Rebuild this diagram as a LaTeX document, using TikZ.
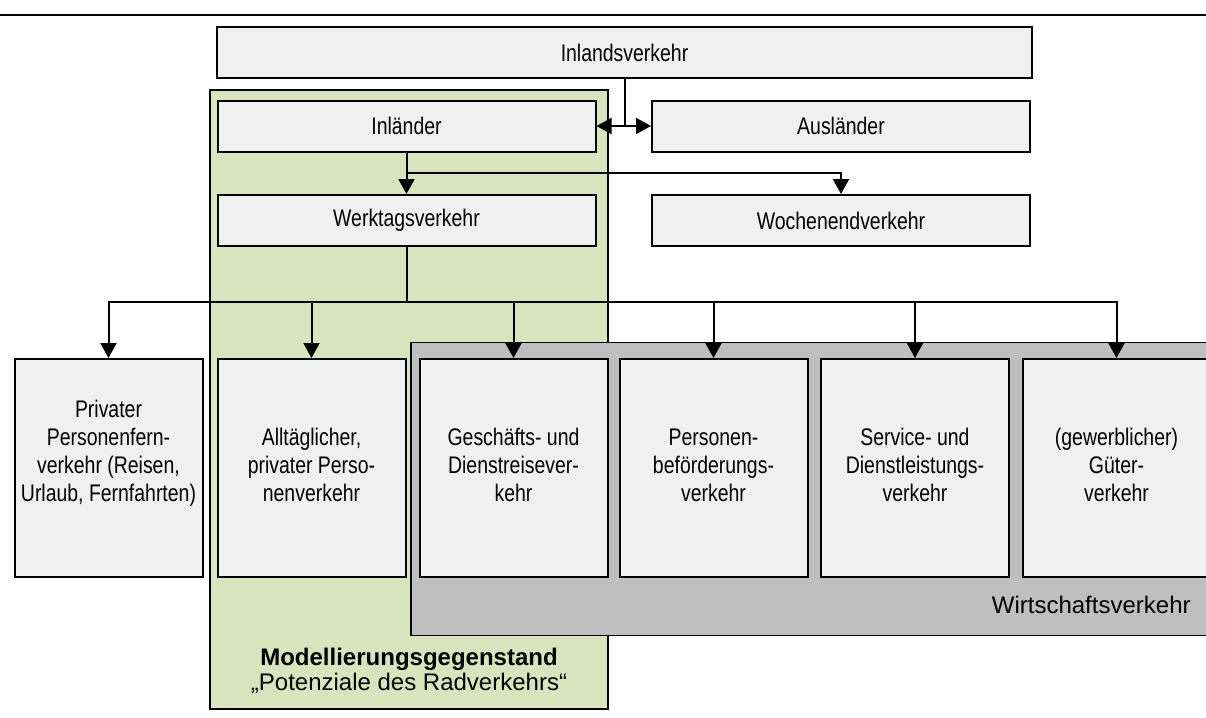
\documentclass[tikz,border=0pt]{standalone}
\usepackage{fontspec}
\setmainfont{Liberation Sans}
\newfontfamily\narrowfont[FakeStretch=0.81]{Liberation Sans}
\usetikzlibrary{arrows.meta}
\definecolor{boxfill}{HTML}{F0F0F0}
\definecolor{greenbg}{HTML}{D7E4BD}
\definecolor{graybg}{HTML}{BFBFBF}
\newcommand\mlines[1]{\parbox[b]{110pt}{\centering #1}}
\tikzset{
  box/.style={draw, line width=1pt, fill=boxfill, inner sep=0pt,
    font=\narrowfont\fontsize{12}{14}\selectfont},
  tallbox/.style={box, minimum width=94pt, minimum height=109pt},
  widebox/.style={box, minimum width=189pt, minimum height=25.5pt},
  btext/.style={inner sep=0pt, anchor=base, font=\narrowfont\fontsize{12}{14}\selectfont},
  arr/.style={line width=1pt, -{Triangle[length=7.5pt,width=8pt]}},
  area/.style={draw, line width=0.75pt}
}
\begin{document}
\begin{tikzpicture}[x=0.5pt,y=-0.5pt]
\clip (0,0) rectangle (1206,718);
\fill[white] (0,0) rectangle (1206,718);
% top rule
\draw[line width=1pt] (0,14.5) coordinate (r1) -- (1206,14.5) coordinate (r2);
% background areas
\node[area, fill=greenbg, minimum width=199pt, minimum height=309.5pt, inner sep=0pt] (green) at (409,399.5) {};
\node[area, fill=graybg, minimum width=420pt, minimum height=146.5pt, inner sep=0pt] (gray) at (831,489) {};
% top boxes
\node[box, minimum width=407.5pt, minimum height=25.5pt] (inl) at (624.5,52.5) {Inlandsverkehr};
\node[widebox] (inlaender) at (406.5,126) {Inländer};
\node[widebox] (ausl) at (841,126) {Ausländer};
\node[widebox] (werk) at (406.5,220.5) {Werktagsverkehr};
\node[widebox] (woch) at (841,220.5) {Wochenendverkehr};
% bottom boxes
\node[tallbox] (priv) at (108.5,468) {};
\node[tallbox] (allt) at (311.5,468) {};
\node[tallbox] (gesch) at (513.5,468) {};
\node[tallbox] (pers) at (713.5,468) {};
\node[tallbox] (serv) at (915,468) {};
\node[tallbox] (gut) at (1116.5,468) {};
\node[btext] (privt) at (108.5,501) {\mlines{Privater\\Personenfern-\\verkehr (Reisen,\\Urlaub, Fernfahrten)}};
\node[btext] (alltt) at (311.5,501) {\mlines{Alltäglicher,\\privater Perso-\\nenverkehr}};
\node[btext] (gescht) at (513.5,501) {\mlines{Geschäfts- und\\Dienstreisever-\\kehr}};
\node[btext] (perst) at (713.5,501) {\mlines{Personen-\\beförderungs-\\verkehr}};
\node[btext] (servt) at (915,501) {\mlines{Service- und\\Dienstleistungs-\\verkehr}};
\node[btext] (gutt) at (1116.5,501) {\mlines{(gewerblicher)\\Güter-\\verkehr}};
% area labels
\node[inner sep=0pt, anchor=base east, font=\fontsize{12}{14}\selectfont] (wv) at (1191,613) {Wirtschaftsverkehr};
\node[inner sep=0pt, anchor=base, font=\fontsize{12}{11}\selectfont] (mg) at (409,690)
  {\parbox[b]{200pt}{\centering\fontsize{12}{11}\selectfont {\bfseries Modellierungsgegenstand}\\„Potenziale des Radverkehrs“}};
% connectors
\draw[arr] (inl.south) |- (inlaender.east);
\draw[arr] (inl.south) |- (ausl.west);
\coordinate (j1) at (406.5,173);
\draw[arr] (inlaender.south) -- (werk.north);
\draw[arr] (j1) -| (woch.north);
\coordinate (j2) at (406.5,302);
\draw[line width=1pt] (werk.south) -- (j2);
\draw[arr] (j2) -| (priv.north);
\draw[arr] (j2) -| (allt.north);
\draw[arr] (j2) -| (gesch.north);
\draw[arr] (j2) -| (pers.north);
\draw[arr] (j2) -| (serv.north);
\draw[arr] (j2) -| (gut.north);
\end{tikzpicture}
\end{document}
